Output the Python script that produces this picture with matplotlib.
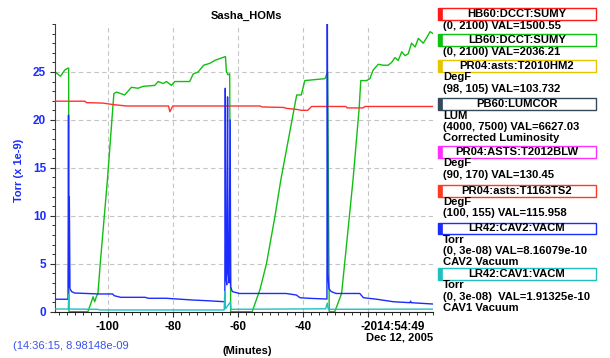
import matplotlib
matplotlib.use('Agg')
import matplotlib.pyplot as plt
from matplotlib.ticker import MultipleLocator, FixedLocator
from matplotlib.patches import Rectangle

plt.rcParams['font.family'] = ['Liberation Sans', 'DejaVu Sans']

W, H = 610, 358

# --- data (minutes relative to 14:54:49, values on the 1e-9 Torr scale) ---
hb60_t = [-116.2, -107, -106.5, -101.4, -98.4, -94.2, -81.3, -80.9, -80.0, -53.2, -52.5,
          -46, -45, -42, -40.4, -38.5, -37.3, -26.8, -26.4, -21.5, -20.9, 0]
hb60_v = [21.95, 21.95, 21.8, 21.75, 21.6, 21.45, 21.45, 20.85, 21.45, 21.45, 21.35,
          21.3, 21.2, 21.1, 21.0, 21.0, 21.4, 21.4, 21.25, 21.25, 21.4, 21.4]

lb60_t = [-116.2, -114.5, -113.2, -112.2, -112.0, -111.9, -106.1, -105.0, -104.5, -104.0,
          -103.5, -103.0, -102.2, -100.1, -98.1, -97.3, -94.8, -92.7, -90.7, -89.1,
          -85.5, -84.5, -83.0, -81.9, -80.4, -79.4, -74.8, -73.7, -72.2, -70.5,
          -68.6, -67.1, -65.5, -63.8, -63.5, -63.0, -62.5, -62.2, -55.6, -53.2,
          -51.2, -48.6, -46.8, -41.9, -40.5, -39.4, -33.2, -32.4, -31.9, -30.2,
          -28.1, -26.9, -24.6, -22.7, -22.2, -20.4, -19.4, -18.4, -16.8, -15.3,
          -13.8, -12.7, -11.7, -10.7, -9.6, -8.6, -7.6, -6.6, -5.5, -4.5,
          -3.0, -1.9, -0.9, 0]
lb60_v = [25.0, 24.55, 25.2, 25.4, 25.4, 0, 0, 1.04, 1.56, 1.04,
          1.56, 1.9, 5.4, 13.7, 22.75, 22.9, 22.6, 23.4, 23.3, 23.5,
          23.6, 24.0, 23.8, 24.0, 23.6, 24.0, 24.0, 24.8, 25.0, 25.7,
          25.9, 26.2, 26.4, 26.6, 25.0, 24.7, 24.8, 0, 0, 2.3,
          5.0, 9.9, 13.7, 22.6, 22.6, 24.1, 24.3, 25.0, 0, 0,
          1.9, 5.9, 13.7, 21.2, 24.1, 24.1, 24.3, 25.2, 25.8, 25.7,
          25.7, 26.0, 26.5, 26.2, 27.1, 26.7, 26.9, 28.0, 27.6, 28.5,
          28.0, 28.6, 29.2, 29.0]

cav2_t = [-116.2, -112.2, -112.05, -111.95, -111.8, -111.6, -111.1, -110.2, -103, -98.5,
          -98.0, -96.0, -88.5, -87.5, -82, -74, -69.7, -64, -63.85, -63.7,
          -63.4, -63.15, -63.0, -62.7, -62.35, -62.2, -61.7, -59.5, -45.2, -42,
          -40.9, -38.3, -32.6, -32.5, -32.3, -32.0, -31.3, -29.8, -22.5, -21.4,
          -17.3, -12.2, -7.1, -6.9, -6.7, 0]
cav2_v = [1.3, 1.3, 20.5, 2.6, 12.0, 2.4, 2.1, 1.95, 1.85, 1.85,
          1.67, 1.5, 1.5, 1.4, 1.4, 1.22, 1.15, 1.04, 23.3, 3.8,
          2.8, 22.4, 4.2, 3.0, 20.0, 2.6, 2.1, 1.9, 1.9, 1.74,
          1.46, 1.4, 1.32, 35.0, 4.0, 2.4, 2.1, 1.9, 1.9, 1.46,
          1.3, 1.04, 0.94, 1.1, 0.94, 0.8]

cav1_t = [-116.2, -112.1, -112.0, -111.9, -103, -102.5, -64.2, -64.0, -63.8, -62.3,
          -62.1, -33, -32.5, -32.2, 0]
cav1_v = [0.28, 0.28, 1.8, 0.28, 0.25, 0.18, 0.18, 2.1, 0.3, 1.0,
          0.25, 0.3, 0.9, 0.25, 0.27]

x_ticks = [-100, -80, -60, -40, -20]
x_ticklabels = ['-100', '-80', '-60', '-40', '']
y_ticks = [0, 5, 10, 15, 20, 25]

legend_names = ['HB60:DCCT:SUMY', 'LB60:DCCT:SUMY', 'PR04:asts:T2010HM2', 'PB60:LUMCOR',
                'PR04:ASTS:T2012BLW', 'PR04:asts:T1163TS2', 'LR42:CAV2:VACM', 'LR42:CAV1:VACM']
legend_colors = ['#ff1a1a', '#10c010', '#e6c400', '#34495a',
                 '#ff30ff', '#ff3a20', '#1a2cff', '#20c0c0']
legend_info = [
    ['(0, 2100) VAL=1500.55'],
    ['(0, 2100) VAL=2036.21'],
    ['DegF', '(98, 105) VAL=103.732'],
    ['LUM', '(4000, 7500) VAL=6627.03', 'Corrected Luminosity'],
    ['DegF', '(90, 170) VAL=130.45'],
    ['DegF', '(100, 155) VAL=115.958'],
    ['Torr', '(0, 3e-08) VAL=8.16079e-10', 'CAV2 Vacuum'],
    ['Torr', '(0, 3e-08)  VAL=1.91325e-10', 'CAV1 Vacuum'],
]
box_tops = [8.3, 34.3, 60, 98.3, 146, 185, 222.7, 268]

BLUE = '#1a2cff'
TICK_FS = 8.5
LEG_FS = 8.1

fig = plt.figure(figsize=(W / 100, H / 100), dpi=100)
ax = fig.add_axes([55 / W, 1 - 311.7 / H, (433 - 55) / W, (311.7 - 24) / H])

ax.plot(lb60_t, lb60_v, color='#10c010', lw=1.0, zorder=2)
ax.plot(hb60_t, hb60_v, color='#ff3030', lw=1.0, zorder=3)
ax.plot(cav2_t, cav2_v, color=BLUE, lw=1.0, zorder=4)
ax.plot(cav1_t, cav1_v, color='#20c0c0', lw=1.0, zorder=5)

ax.set_xlim(-116.2, 0)
ax.set_ylim(0, 30)
ax.xaxis.set_major_locator(FixedLocator(x_ticks))
ax.set_xticklabels(x_ticklabels)
ax.xaxis.set_minor_locator(MultipleLocator(2.5))
ax.yaxis.set_major_locator(FixedLocator(y_ticks))
ax.yaxis.set_minor_locator(MultipleLocator(1))

ax.grid(True, which='major', color='#c4c4c4', linestyle=(0, (4, 3)), lw=0.8)
ax.set_axisbelow(True)
for s in ['top', 'right']:
    ax.spines[s].set_visible(False)
ax.spines['left'].set_color('#404040')
ax.spines['bottom'].set_color('#202020')

ax.tick_params(which='major', length=3.6, width=0.8, pad=2.8, labelsize=TICK_FS, color='#303030')
ax.tick_params(which='minor', length=2.2, width=0.7, color='#303030')
ax.tick_params(axis='y', labelcolor=BLUE)
for lbl in ax.get_xticklabels() + ax.get_yticklabels():
    lbl.set_fontweight('bold')

ax.set_title('Sasha_HOMs', fontsize=8, fontweight='bold', pad=4, x=0.507)
ax.set_ylabel('Torr (x 1e-9)', fontsize=8, fontweight='bold', color=BLUE)
ax.yaxis.set_label_coords(-0.082, 0.49)
ax.set_xlabel('(Minutes)', fontsize=8, fontweight='bold')
ax.xaxis.set_label_coords(0.508, -0.118)

# -20 tick label runs straight into the end time stamp
ax.annotate('-2014:54:49', xy=(-20, 0), xycoords=('data', 'axes fraction'),
            xytext=(-5.6, -6.4), textcoords='offset points', ha='left', va='top',
            fontsize=TICK_FS, fontweight='bold')
fig.text(433 / W, 1 - 338 / H, 'Dec 12, 2005', ha='right', va='center',
         fontsize=8, fontweight='bold')
fig.text(13 / W, 1 - 346 / H, '(14:36:15, 8.98148e-09', ha='left', va='center',
         fontsize=8, color='#3a52f0')

# legend panel on the right
bx0, bx1, bh = 438, 596, 11.5
for name, col, info, top in zip(legend_names, legend_colors, legend_info, box_tops):
    fig.add_artist(Rectangle((bx0 / W, 1 - (top + bh) / H), (bx1 - bx0) / W, bh / H,
                             transform=fig.transFigure, facecolor='white',
                             edgecolor=col, lw=1.0))
    fig.add_artist(Rectangle((bx0 / W, 1 - (top + bh) / H), 4 / W, bh / H,
                             transform=fig.transFigure, facecolor=col,
                             edgecolor=col, lw=0.5))
    fig.text((bx0 + bx1) / 2 / W, 1 - (top + bh / 2) / H, name, ha='center',
             va='center', fontsize=LEG_FS, fontweight='bold')
    for i, line in enumerate(info):
        yc = top + 17.3 + i * 11.2
        fig.text(443 / W, 1 - yc / H, line, ha='left', va='center',
                 fontsize=LEG_FS, fontweight='bold')

fig.savefig('out.png', dpi=100)
